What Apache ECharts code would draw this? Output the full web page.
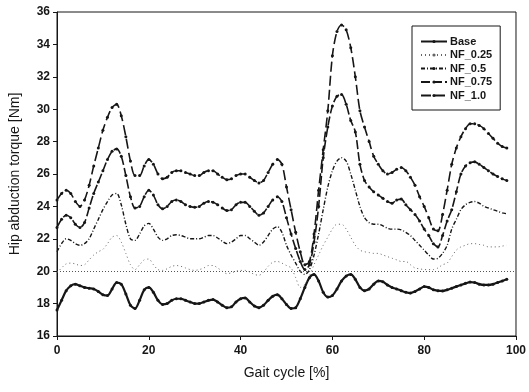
<!DOCTYPE html>
<html>
<head>
<meta charset="utf-8">
<script src="https://cdn.jsdelivr.net/npm/echarts@6/dist/echarts.min.js"></script>
<style>
  html, body { margin: 0; padding: 0; background: #fff; }
  #chart { width: 529px; height: 392px; }
</style>
</head>
<body>
<div id="chart"></div>
<script>
// gait cycle positions (%)
const gait = [];
for (let i = 0; i <= 98; i++) gait.push(i);

const yTicks = [16, 18, 20, 22, 24, 26, 28, 30, 32, 34, 36];
const xTicks = [0, 20, 40, 60, 80, 100];

const base = [17.6, 18.2, 18.8, 19.1, 19.2, 19.1, 19.0, 18.95, 18.9, 18.75, 18.55, 18.5, 18.9, 19.3, 19.2, 18.6, 17.9, 17.7, 18.2, 18.85,
  19.0, 18.7, 18.2, 17.95, 18.0, 18.2, 18.3, 18.3, 18.2, 18.1, 18.0, 18.0, 18.1, 18.2, 18.25, 18.1, 17.9, 17.75, 17.8, 18.1,
  18.3, 18.35, 18.1, 17.85, 17.75, 17.9, 18.2, 18.45, 18.55, 18.3, 17.95, 17.7, 17.75, 18.3, 19.0, 19.6, 19.8, 19.4, 18.7, 18.4,
  18.5, 18.9, 19.4, 19.7, 19.8, 19.5, 19.0, 18.8, 18.9, 19.2, 19.4, 19.35, 19.15, 19.0, 18.9, 18.8, 18.7, 18.65, 18.75, 18.9,
  19.05, 19.0, 18.85, 18.8, 18.78, 18.85, 18.95, 19.05, 19.15, 19.25, 19.33, 19.3, 19.2, 19.15, 19.15, 19.2, 19.3, 19.4, 19.5];

const nf025 = [19.9, 20.2, 20.45, 20.5, 20.45, 20.35, 20.4, 20.7, 21.0, 21.2, 21.35, 21.7, 22.1, 22.2, 21.8, 21.1, 20.4, 20.1, 20.4, 20.7,
  20.75, 20.4, 20.1, 20.05, 20.15, 20.3, 20.35, 20.3, 20.2, 20.1, 20.05, 20.1, 20.2, 20.35, 20.35, 20.2, 20.0, 19.85, 19.9, 20.0,
  20.05, 20.05, 19.95, 19.8, 19.75, 19.95, 20.3, 20.55, 20.6, 20.5, 20.35, 20.2, 19.6, 19.0, 19.2, 19.7, 20.4, 21.0, 21.6, 22.1,
  22.6, 22.9, 22.9, 22.6, 22.1, 21.6, 21.3, 21.2, 21.15, 21.1, 21.1, 21.0, 20.9, 20.8, 20.7, 20.6, 20.6, 20.4, 20.2, 20.15,
  20.1, 20.1, 20.1, 20.2, 20.4, 20.5, 20.9, 21.3, 21.5, 21.6, 21.7, 21.7, 21.65, 21.6, 21.5, 21.5, 21.5, 21.55, 21.6];

const nf05 = [21.2, 21.7, 22.0, 21.9, 21.7, 21.6, 21.7, 22.0, 22.6, 23.2, 23.8, 24.3, 24.7, 24.8, 24.1, 22.9, 22.0, 21.9, 22.3, 22.8,
  22.95, 22.6, 22.1, 21.9, 22.0, 22.2, 22.25, 22.2, 22.1, 22.0, 22.0, 22.0, 22.1, 22.2, 22.2, 22.05, 21.85, 21.7, 21.8, 22.0,
  22.2, 22.2, 22.0, 21.8, 21.6, 21.8, 22.2, 22.6, 22.75, 22.4, 21.6, 21.0, 20.5, 20.0, 19.8, 20.1, 21.0, 22.3, 23.8, 25.2,
  26.2, 26.8, 27.0, 26.8, 26.0, 25.0, 24.0, 23.3, 23.0, 22.9, 22.9, 22.8, 22.65, 22.6, 22.6, 22.55, 22.4, 22.2, 21.9, 21.6,
  21.3, 21.0, 20.75, 20.8, 21.1, 21.6, 22.6, 23.2, 23.8, 24.1, 24.25, 24.3, 24.2, 24.0, 23.9, 23.8, 23.7, 23.6, 23.55];

const nf075 = [22.7, 23.2, 23.45, 23.3, 22.9, 22.7, 23.0, 23.9, 24.8, 25.5, 26.2, 26.9, 27.4, 27.55, 27.1, 25.9, 24.6, 23.9, 24.0, 24.6,
  25.0, 24.7, 24.1, 23.85, 24.0, 24.3, 24.4, 24.3, 24.1, 24.0, 23.95, 24.0, 24.2, 24.3, 24.25, 24.1, 23.9, 23.75, 23.8, 24.1,
  24.25, 24.25, 24.0, 23.7, 23.45, 23.6, 24.0, 24.4, 24.6, 24.3, 23.3, 22.3, 21.4, 20.6, 20.1, 20.4, 21.8, 24.0, 27.0, 28.9,
  30.2, 30.8, 30.9, 30.3, 29.3, 28.6, 26.6, 25.6, 25.2, 24.9, 24.7, 24.5, 24.3, 24.2, 24.4, 24.45, 24.1, 23.8, 23.5, 23.1,
  22.6, 22.2, 21.7, 21.5, 22.2, 23.1, 23.8, 24.9, 26.0, 26.5, 26.7, 26.75, 26.6, 26.4, 26.2, 26.0, 25.85, 25.7, 25.6];

const nf10 = [24.4, 24.8, 25.0, 24.8, 24.3, 24.0, 24.4, 25.3, 26.5, 27.6, 28.7, 29.5, 30.1, 30.3, 29.6, 28.3, 26.8, 25.9, 25.9, 26.5,
  26.9, 26.6, 26.0, 25.7, 25.8, 26.1, 26.2, 26.2, 26.1, 26.0, 25.9, 25.9, 26.1, 26.2, 26.2, 26.0, 25.8, 25.65, 25.7, 25.9,
  26.0, 26.0, 25.8, 25.6, 25.45, 25.6, 26.1, 26.6, 26.9, 26.6, 25.2, 23.8, 22.4, 21.2, 20.4, 20.6, 22.3, 25.0, 27.5, 29.9,
  33.3, 34.8, 35.2, 34.9, 33.8, 32.0, 29.9, 28.9, 28.0, 27.1, 26.6, 26.2, 26.0, 26.1, 26.3, 26.4, 26.2, 25.8, 25.3, 24.6,
  24.0, 23.3, 22.6, 22.5, 23.5, 25.0, 26.6, 27.6, 28.3, 28.8, 29.1, 29.1, 29.0, 28.8, 28.5, 28.2, 27.9, 27.7, 27.6];

const refLevel = 20;

const pairs = arr => arr.map((v, i) => [gait[i], v]);

const chart = echarts.init(document.getElementById('chart'));

const ink = '#161616';

function line(name, data, type, width, sym, color) {
  return {
    name: name,
    type: 'line',
    data: pairs(data),
    smooth: 0.3,
    symbol: sym ? 'circle' : 'none',
    symbolSize: 3,
    showSymbol: !!sym,
    itemStyle: { color: color || ink },
    lineStyle: { color: color || ink, width: width, type: type },
    z: 3
  };
}

const option = {
  animation: false,
  backgroundColor: '#fff',
  textStyle: { fontFamily: 'Liberation Sans, Arial, sans-serif' },
  grid: {
    left: 57, right: 10, top: 12, bottom: 56,
    show: true, borderColor: ink, borderWidth: 1
  },
  legend: {
    orient: 'vertical',
    left: 412, top: 26,
    padding: [10, 8, 9, 8],
    borderColor: ink, borderWidth: 1,
    backgroundColor: '#fff',
    itemWidth: 26, itemHeight: 4, itemGap: 2.5,
    itemStyle: { borderWidth: 0 },
    textStyle: { fontSize: 11, fontWeight: 'bold', color: ink, padding: [0, 0, 0, -2], lineHeight: 11 },
    data: ['Base', 'NF_0.25', 'NF_0.5', 'NF_0.75', 'NF_1.0']
  },
  xAxis: {
    type: 'value',
    min: 0, max: 100, interval: 20,
    name: 'Gait cycle [%]',
    nameLocation: 'middle', nameGap: 30,
    nameTextStyle: { fontSize: 14, color: ink },
    axisLine: { lineStyle: { color: ink, width: 1 } },
    axisTick: { show: true, length: 4, lineStyle: { color: ink } },
    axisLabel: { fontSize: 12, fontWeight: 'bold', color: ink, margin: 9,
      formatter: v => xTicks.includes(v) ? String(v) : '' },
    splitLine: { show: false }
  },
  yAxis: {
    type: 'value',
    min: 16, max: 36, interval: 2,
    name: 'Hip abduction torque [Nm]',
    nameLocation: 'middle', nameGap: 35,
    nameTextStyle: { fontSize: 14, color: ink },
    axisLine: { show: true, lineStyle: { color: ink, width: 1 } },
    axisTick: { show: true, length: 4, lineStyle: { color: ink } },
    axisLabel: { fontSize: 12, fontWeight: 'bold', color: ink, margin: 7,
      formatter: v => yTicks.includes(v) ? String(v) : '' },
    splitLine: { show: false }
  },
  series: [
    Object.assign(line('Base', base, 'solid', 2.2, true), {
      markLine: {
        silent: true, symbol: 'none', label: { show: false },
        lineStyle: { color: '#555', type: [1, 2], width: 1 },
        data: [{ yAxis: refLevel }]
      }
    }),
    line('NF_0.25', nf025, [1, 3], 1, false, '#666'),
    line('NF_0.5', nf05, [4, 2, 1, 2], 1.4, false),
    line('NF_0.75', nf075, [9, 3], 1.6, true),
    line('NF_1.0', nf10, [10, 4], 1.6, true)
  ]
};

chart.setOption(option);
</script>
</body>
</html>
